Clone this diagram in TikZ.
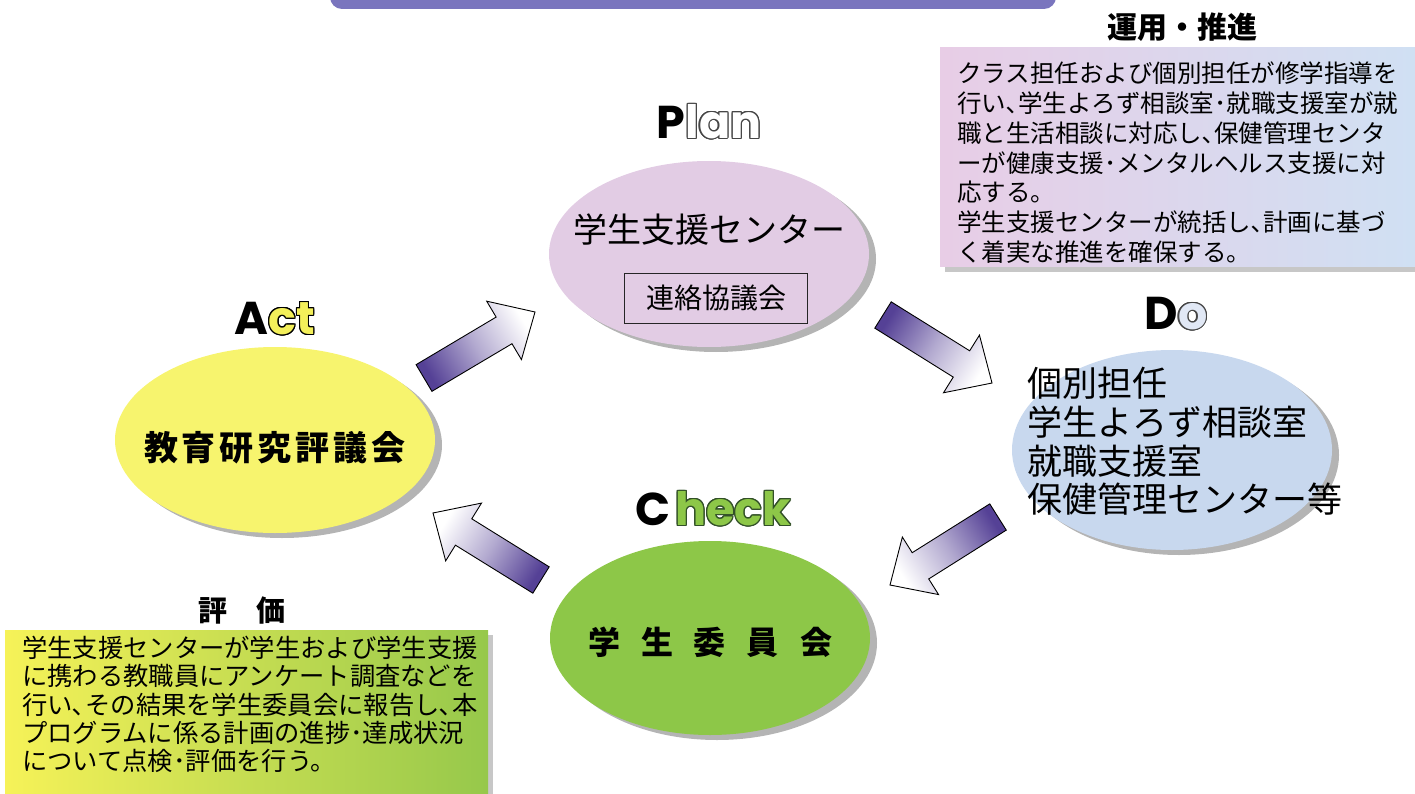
\documentclass[tikz,border=0pt]{standalone}
\usepackage{fontspec}
\usepackage{contour}
\usetikzlibrary{shapes.geometric,calc}
\newfontfamily\jp{Noto Sans CJK JP}
\newfontfamily\pdca{Poppins}
\contourlength{1.1pt}
\definecolor{banner}{RGB}{122,117,190}
\definecolor{planfill}{RGB}{226,204,228}
\definecolor{actfill}{RGB}{247,244,110}
\definecolor{dofill}{RGB}{200,216,238}
\definecolor{checkfill}{RGB}{141,199,72}
\definecolor{shadowgray}{RGB}{180,180,180}
\definecolor{trleft}{RGB}{232,205,230}
\definecolor{trright}{RGB}{208,224,243}
\definecolor{blleft}{RGB}{246,242,88}
\definecolor{blright}{RGB}{150,200,75}
\definecolor{arrowdark}{RGB}{85,65,150}
\definecolor{outlinegray}{RGB}{70,70,70}
\definecolor{actyellow}{RGB}{243,239,90}
\definecolor{checkgreen}{RGB}{141,199,72}
\definecolor{checkdark}{RGB}{50,80,40}
\definecolor{dolight}{RGB}{225,232,245}
\newcommand\blockarrow[2]{%
  \coordinate (#1h) at ($(#1tip)!36pt!(#1tail)$);
  \draw[arrowline, shading angle=#2]
    ($(#1tail)!15.5pt!90:(#1tip)$) -- ($(#1h)!15.5pt!90:(#1tip)$)
    -- ($(#1h)!34pt!90:(#1tip)$) -- (#1tip)
    -- ($(#1h)!34pt!-90:(#1tip)$) -- ($(#1h)!15.5pt!-90:(#1tip)$)
    -- ($(#1tail)!15.5pt!-90:(#1tip)$) -- cycle;
}
\begin{document}
\begin{tikzpicture}[x=1pt,y=-1pt,
  every node/.style={inner sep=0pt},
  oval/.style={ellipse, minimum width=320pt, minimum height=#1},
  shadowoval/.style={oval=#1, fill=shadowgray},
  arrowline/.style={draw=black, line width=0.9pt, line join=miter,
    top color=white, bottom color=arrowdark, middle color=arrowdark!45!white},
  label/.style={font=\pdca\bfseries\fontsize{46pt}{50pt}\selectfont},
  bigjp/.style={font=\jp\fontsize{#1}{#1}\selectfont},
  boldjp/.style={font=\jp\bfseries\fontsize{#1}{#1}\selectfont}
]
\useasboundingbox (0,0) rectangle (1415,794);
\clip (0,0) rectangle (1415,794);

% top banner
\fill[banner, rounded corners=12pt] (330,-40) rectangle (1056,9);

% ellipses with shadows
\node[shadowoval=186pt] (planshadow) at (716,259) {};
\node[oval=186pt, fill=planfill] (plan) at (709,254) {};
\node[shadowoval=186pt] (actshadow) at (282,445) {};
\node[oval=186pt, fill=actfill] (act) at (275,440) {};
\node[shadowoval=200pt] (doshadow) at (1179,455) {};
\node[oval=200pt, fill=dofill] (do) at (1172,450) {};
\node[shadowoval=194pt] (checkshadow) at (717,643) {};
\node[oval=194pt, fill=checkfill] (check) at (710,638) {};

% PDCA labels
\node[label] (planlabel) at (709,122) {P\contour{outlinegray}{\textcolor{white}{lan}}};
\node[label] (actlabel) at (275,319) {A\contour{black}{\textcolor{actyellow}{ct}}};
\node[label] (dolabel) at (1176,314) {D\contour{outlinegray}{\textcolor{dolight}{o}}};
\node[label] (checklabel) at (713,509) {C\kern5pt\contour{checkdark}{\textcolor{checkgreen}{heck}}};

% ellipse texts
\node[bigjp=34pt] (plantext) at (709,230) {学生支援センター};
\node[bigjp=28pt, draw=black!85, line width=0.8pt, minimum width=183pt, minimum height=50pt] (council) at (716,298) {連絡協議会};
\node[boldjp=34pt] (acttext) at (275,448) {教\kern4pt 育\kern4pt 研\kern4pt 究\kern4pt 評\kern4pt 議\kern4pt 会};
\node[boldjp=32pt] (checktext) at (710,642) {学\kern21pt 生\kern21pt 委\kern21pt 員\kern21pt 会};
\node[anchor=north west, align=left, font=\jp\fontsize{35pt}{38.7pt}\selectfont] (dotext) at (1027,367)
  {個別担任\\学生よろず相談室\\就職支援室\\保健管理センター等};

% top-right box
\node[boldjp=30pt] (runtitle) at (1182,27) {運用・推進};
\fill[black!22] (945,53) rectangle (1420,272);
\shade[left color=trleft, right color=trright] (940,48) rectangle (1415,266);
\node[anchor=north west, align=left, font=\jp\fontsize{24.5pt}{29.7pt}\selectfont] (runtext) at (957,62)
  {クラス担任および個別担任が修学指導を\\
   行い､学生よろず相談室･就職支援室が就\\
   職と生活相談に対応し､保健管理センタ\\
   ーが健康支援･メンタルヘルス支援に対\\
   応する。\\
   学生支援センターが統括し､計画に基づ\\
   く着実な推進を確保する。};

% bottom-left box
\node[boldjp=29pt] (evaltitle) at (242,611) {評　価};
\fill[black!22] (10,635) rectangle (493,800);
\shade[left color=blleft, right color=blright] (5,630) rectangle (488,800);
\node[anchor=north west, align=left, font=\jp\fontsize{25.3pt}{28.3pt}\selectfont] (evaltext) at (22,636)
  {学生支援センターが学生および学生支援\\
   に携わる教職員にアンケート調査などを\\
   行い､その結果を学生委員会に報告し､本\\
   プログラムに係る計画の進捗･達成状況\\
   について点検･評価を行う。};

% block arrows
\coordinate (atail) at (424,378); \coordinate (atip) at (535,312);
\coordinate (btail) at (883,315); \coordinate (btip) at (992,383);
\coordinate (ctail) at (998,517); \coordinate (ctip) at (890,585);
\coordinate (dtail) at (541,580); \coordinate (dtip) at (433,513);
\blockarrow{a}{-59.3}
\blockarrow{b}{-122}
\blockarrow{c}{-237.8}
\blockarrow{d}{58.2}
\end{tikzpicture}
\end{document}
